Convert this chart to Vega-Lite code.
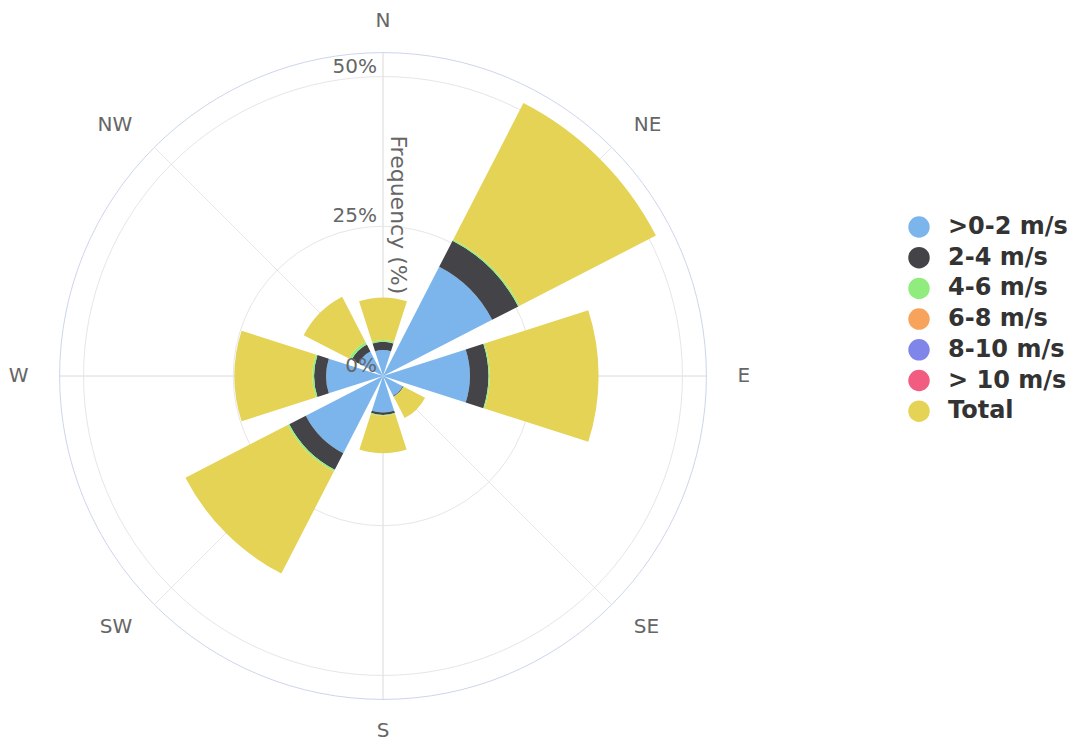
{
  "$schema": "https://vega.github.io/schema/vega-lite/v6.json",
  "autosize": {"type": "none"},
  "width": 766,
  "height": 720,
  "padding": {"left": 0, "top": 16, "right": 315, "bottom": 6},
  "background": "white",
  "config": {"view": {"stroke": null}},
  "datasets": {
    "wind": [
      {"dir": "N", "speed": ">0-2 m/s", "rank": 1, "freq": 4.35},
      {"dir": "N", "speed": "2-4 m/s", "rank": 2, "freq": 1.35},
      {"dir": "N", "speed": "4-6 m/s", "rank": 3, "freq": 0.3},
      {"dir": "N", "speed": "6-8 m/s", "rank": 4, "freq": 0},
      {"dir": "N", "speed": "8-10 m/s", "rank": 5, "freq": 0},
      {"dir": "N", "speed": "> 10 m/s", "rank": 6, "freq": 0},
      {"dir": "N", "speed": "Total", "rank": 7, "freq": 7.1},
      {"dir": "NE", "speed": ">0-2 m/s", "rank": 1, "freq": 20.5},
      {"dir": "NE", "speed": "2-4 m/s", "rank": 2, "freq": 4.9},
      {"dir": "NE", "speed": "4-6 m/s", "rank": 3, "freq": 0.25},
      {"dir": "NE", "speed": "6-8 m/s", "rank": 4, "freq": 0},
      {"dir": "NE", "speed": "8-10 m/s", "rank": 5, "freq": 0},
      {"dir": "NE", "speed": "> 10 m/s", "rank": 6, "freq": 0},
      {"dir": "NE", "speed": "Total", "rank": 7, "freq": 25.6},
      {"dir": "E", "speed": ">0-2 m/s", "rank": 1, "freq": 14.5},
      {"dir": "E", "speed": "2-4 m/s", "rank": 2, "freq": 3.1},
      {"dir": "E", "speed": "4-6 m/s", "rank": 3, "freq": 0.2},
      {"dir": "E", "speed": "6-8 m/s", "rank": 4, "freq": 0},
      {"dir": "E", "speed": "8-10 m/s", "rank": 5, "freq": 0},
      {"dir": "E", "speed": "> 10 m/s", "rank": 6, "freq": 0},
      {"dir": "E", "speed": "Total", "rank": 7, "freq": 18.2},
      {"dir": "SE", "speed": ">0-2 m/s", "rank": 1, "freq": 3.7},
      {"dir": "SE", "speed": "2-4 m/s", "rank": 2, "freq": 0.15},
      {"dir": "SE", "speed": "4-6 m/s", "rank": 3, "freq": 0.05},
      {"dir": "SE", "speed": "6-8 m/s", "rank": 4, "freq": 0},
      {"dir": "SE", "speed": "8-10 m/s", "rank": 5, "freq": 0},
      {"dir": "SE", "speed": "> 10 m/s", "rank": 6, "freq": 0},
      {"dir": "SE", "speed": "Total", "rank": 7, "freq": 4.0},
      {"dir": "S", "speed": ">0-2 m/s", "rank": 1, "freq": 6.1},
      {"dir": "S", "speed": "2-4 m/s", "rank": 2, "freq": 0.4},
      {"dir": "S", "speed": "4-6 m/s", "rank": 3, "freq": 0.1},
      {"dir": "S", "speed": "6-8 m/s", "rank": 4, "freq": 0},
      {"dir": "S", "speed": "8-10 m/s", "rank": 5, "freq": 0},
      {"dir": "S", "speed": "> 10 m/s", "rank": 6, "freq": 0},
      {"dir": "S", "speed": "Total", "rank": 7, "freq": 6.3},
      {"dir": "SW", "speed": ">0-2 m/s", "rank": 1, "freq": 14.5},
      {"dir": "SW", "speed": "2-4 m/s", "rank": 2, "freq": 3.1},
      {"dir": "SW", "speed": "4-6 m/s", "rank": 3, "freq": 0.3},
      {"dir": "SW", "speed": "6-8 m/s", "rank": 4, "freq": 0},
      {"dir": "SW", "speed": "8-10 m/s", "rank": 5, "freq": 0},
      {"dir": "SW", "speed": "> 10 m/s", "rank": 6, "freq": 0},
      {"dir": "SW", "speed": "Total", "rank": 7, "freq": 19.2},
      {"dir": "W", "speed": ">0-2 m/s", "rank": 1, "freq": 9.5},
      {"dir": "W", "speed": "2-4 m/s", "rank": 2, "freq": 2.0},
      {"dir": "W", "speed": "4-6 m/s", "rank": 3, "freq": 0.3},
      {"dir": "W", "speed": "6-8 m/s", "rank": 4, "freq": 0},
      {"dir": "W", "speed": "8-10 m/s", "rank": 5, "freq": 0},
      {"dir": "W", "speed": "> 10 m/s", "rank": 6, "freq": 0},
      {"dir": "W", "speed": "Total", "rank": 7, "freq": 13.0},
      {"dir": "NW", "speed": ">0-2 m/s", "rank": 1, "freq": 4.6},
      {"dir": "NW", "speed": "2-4 m/s", "rank": 2, "freq": 1.3},
      {"dir": "NW", "speed": "4-6 m/s", "rank": 3, "freq": 0.5},
      {"dir": "NW", "speed": "6-8 m/s", "rank": 4, "freq": 0},
      {"dir": "NW", "speed": "8-10 m/s", "rank": 5, "freq": 0},
      {"dir": "NW", "speed": "> 10 m/s", "rank": 6, "freq": 0},
      {"dir": "NW", "speed": "Total", "rank": 7, "freq": 8.5}
    ],
    "dirs": [
      {"dir": "N"}, {"dir": "NE"}, {"dir": "E"}, {"dir": "SE"},
      {"dir": "S"}, {"dir": "SW"}, {"dir": "W"}, {"dir": "NW"}
    ],
    "ticks": [
      {"tick": 0, "label": "0%"},
      {"tick": 25, "label": "25%"},
      {"tick": 50, "label": "50%"}
    ]
  },
  "layer": [
    {
      "data": {"name": "ticks"},
      "mark": {"type": "arc", "theta": 0, "theta2": 6.2832, "filled": false, "stroke": "#e6e6e6", "strokeWidth": 1},
      "encoding": {
        "radius": {"field": "tick", "type": "quantitative", "stack": null,
          "scale": {"type": "linear", "domain": [0, 54], "range": [0, 323.4], "zero": true}}
      }
    },
    {
      "data": {"name": "dirs"},
      "mark": {"type": "arc", "radius2": 0, "filled": false, "stroke": "#e6e6e6", "strokeWidth": 1},
      "encoding": {
        "theta": {"field": "dir", "type": "nominal",
          "scale": {"type": "point", "domain": ["N", "NE", "E", "SE", "S", "SW", "W", "NW"], "range": [0, 5.497787], "padding": 0}},
        "theta2": {"field": "dir"},
        "radius": {"datum": 54}
      }
    },
    {
      "data": {"values": [{}]},
      "mark": {"type": "arc", "theta": 0, "theta2": 6.2832, "filled": false, "stroke": "#ccd6eb", "strokeWidth": 1},
      "encoding": {
        "radius": {"datum": 54}
      }
    },
    {
      "data": {"name": "wind"},
      "mark": {"type": "arc"},
      "encoding": {
        "theta": {"field": "dir", "type": "nominal",
          "scale": {"type": "band", "domain": ["N", "NE", "E", "SE", "S", "SW", "W", "NW"], "range": [-0.392699, 5.890486], "paddingInner": 0.21, "paddingOuter": 0.105}},
        "radius": {"field": "freq", "type": "quantitative", "stack": "zero",
          "scale": {"type": "linear", "domain": [0, 54], "range": [0, 323.4], "zero": true}},
        "color": {"field": "speed", "type": "nominal",
          "scale": {"domain": [">0-2 m/s", "2-4 m/s", "4-6 m/s", "6-8 m/s", "8-10 m/s", "> 10 m/s", "Total"],
            "range": ["#7cb5ec", "#434348", "#90ed7d", "#f7a35c", "#8085e9", "#f15c80", "#e4d354"]},
          "legend": {"title": null, "orient": "none", "legendX": 907, "legendY": 199, "padding": 0,
            "symbolType": "circle", "symbolSize": 460, "symbolStrokeWidth": 0, "symbolOpacity": 1,
            "labelFont": "DejaVu Sans", "labelFontWeight": "bold", "labelFontSize": 24, "labelColor": "#333333",
            "labelOffset": 17, "rowPadding": 6.7, "labelLimit": 300}},
        "order": {"field": "rank", "type": "quantitative"}
      }
    },
    {
      "data": {"name": "ticks"},
      "mark": {"type": "text", "align": "right", "baseline": "alphabetic", "dx": -6, "dy": -4, "font": "DejaVu Sans", "fontSize": 20, "color": "#666666"},
      "encoding": {
        "radius": {"field": "tick", "type": "quantitative"},
        "text": {"field": "label"}
      }
    },
    {
      "data": {"values": [{"title": "Frequency (%)"}]},
      "mark": {"type": "text", "angle": 90, "align": "center", "baseline": "alphabetic", "dy": -8, "font": "DejaVu Sans", "fontSize": 22, "color": "#666666"},
      "encoding": {
        "radius": {"datum": 26.9},
        "text": {"field": "title"}
      }
    },
    {
      "data": {"name": "dirs"},
      "transform": [{"filter": {"field": "dir", "oneOf": ["N", "S"]}}],
      "mark": {"type": "text", "align": "center", "baseline": "middle", "font": "DejaVu Sans", "fontSize": 20, "color": "#666666"},
      "encoding": {
        "theta": {"field": "dir", "type": "nominal",
          "scale": {"type": "point", "domain": ["N", "NE", "E", "SE", "S", "SW", "W", "NW"], "range": [0, 5.497787], "padding": 0}},
        "radius": {"datum": 59.2},
        "text": {"field": "dir"}
      }
    },
    {
      "data": {"name": "dirs"},
      "transform": [{"filter": {"field": "dir", "oneOf": ["NE", "E", "SE"]}}],
      "mark": {"type": "text", "align": "left", "baseline": "middle", "font": "DejaVu Sans", "fontSize": 20, "color": "#666666"},
      "encoding": {
        "theta": {"field": "dir", "type": "nominal",
          "scale": {"type": "point", "domain": ["N", "NE", "E", "SE", "S", "SW", "W", "NW"], "range": [0, 5.497787], "padding": 0}},
        "radius": {"datum": 59.2},
        "text": {"field": "dir"}
      }
    },
    {
      "data": {"name": "dirs"},
      "transform": [{"filter": {"field": "dir", "oneOf": ["SW", "W", "NW"]}}],
      "mark": {"type": "text", "align": "right", "baseline": "middle", "font": "DejaVu Sans", "fontSize": 20, "color": "#666666"},
      "encoding": {
        "theta": {"field": "dir", "type": "nominal",
          "scale": {"type": "point", "domain": ["N", "NE", "E", "SE", "S", "SW", "W", "NW"], "range": [0, 5.497787], "padding": 0}},
        "radius": {"datum": 59.2},
        "text": {"field": "dir"}
      }
    }
  ],
  "resolve": {"scale": {"theta": "independent"}}
}
